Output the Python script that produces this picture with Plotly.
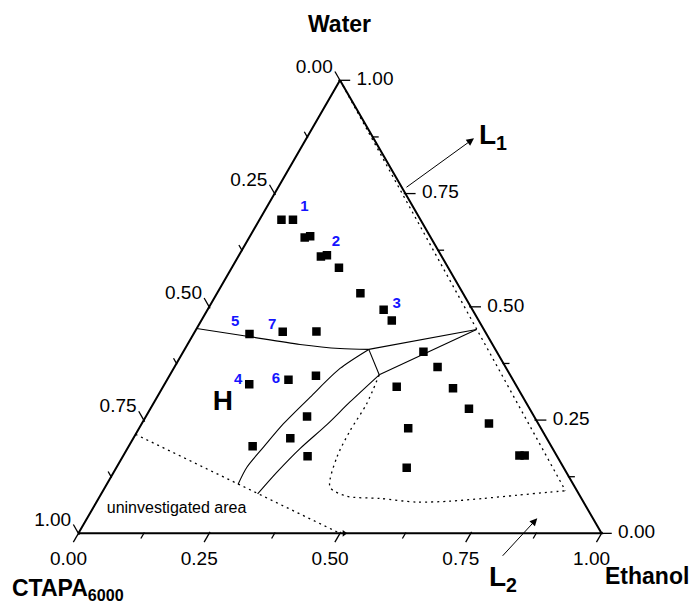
import math
import plotly.graph_objects as go

# ---------------------------------------------------------------
# Measured sample compositions (mass fractions)
# ---------------------------------------------------------------
water = [0.693, 0.693, 0.653, 0.656, 0.611, 0.614, 0.586, 0.530, 0.494, 0.470,
         0.440, 0.445, 0.445, 0.329, 0.339, 0.348, 0.258, 0.210, 0.192, 0.170,
         0.401, 0.367, 0.320, 0.275, 0.242, 0.324, 0.232, 0.145, 0.172, 0.172]
ctapa = [0.266, 0.244, 0.241, 0.229, 0.231, 0.218, 0.209, 0.196, 0.170, 0.166,
         0.453, 0.387, 0.322, 0.509, 0.429, 0.372, 0.434, 0.490, 0.571, 0.477,
         0.140, 0.130, 0.124, 0.116, 0.094, 0.230, 0.254, 0.300, 0.071, 0.061]
ethanol = [0.042, 0.064, 0.106, 0.115, 0.158, 0.168, 0.205, 0.274, 0.337, 0.364,
           0.107, 0.168, 0.232, 0.162, 0.232, 0.280, 0.308, 0.300, 0.237, 0.353,
           0.459, 0.503, 0.556, 0.609, 0.663, 0.447, 0.515, 0.555, 0.757, 0.767]

# ---------------------------------------------------------------
# Phase boundaries: (water, ctapa, ethanol) lists
# ---------------------------------------------------------------
h_l1_water = [0.452, 0.435, 0.417, 0.408, 0.406]
h_l1_ctapa = [0.548, 0.460, 0.368, 0.296, 0.242]
h_l1_ethanol = [0.000, 0.105, 0.215, 0.296, 0.352]

tie_upper_water = [0.406, 0.450]
tie_upper_ctapa = [0.242, 0.014]
tie_upper_ethanol = [0.352, 0.536]

tie_lower_water = [0.350, 0.450]
tie_lower_ctapa = [0.250, 0.014]
tie_lower_ethanol = [0.400, 0.536]

junction_water = [0.406, 0.350]
junction_ctapa = [0.242, 0.250]
junction_ethanol = [0.352, 0.400]

band_left_water = [0.406, 0.364, 0.301, 0.242, 0.191, 0.146, 0.108]
band_left_ctapa = [0.242, 0.318, 0.407, 0.487, 0.551, 0.605, 0.641]
band_left_ethanol = [0.352, 0.318, 0.293, 0.271, 0.259, 0.249, 0.251]

band_right_water = [0.350, 0.290, 0.240, 0.187, 0.135, 0.087]
band_right_ctapa = [0.250, 0.336, 0.405, 0.483, 0.553, 0.614]
band_right_ethanol = [0.400, 0.374, 0.355, 0.330, 0.312, 0.299]

uninv_water = [0.2185, 0.000]
uninv_ctapa = [0.7815, 0.500]
uninv_ethanol = [0.000, 0.500]

l1_water = [1.000, 0.094]
l1_ctapa = [0.000, 0.022]
l1_ethanol = [0.000, 0.884]

l2_water = [0.350, 0.286, 0.227, 0.168, 0.102, 0.082, 0.077, 0.069, 0.071,
            0.077, 0.084, 0.091, 0.094]
l2_ctapa = [0.250, 0.306, 0.367, 0.422, 0.468, 0.446, 0.385, 0.319, 0.254,
            0.188, 0.121, 0.054, 0.022]
l2_ethanol = [0.400, 0.408, 0.406, 0.410, 0.430, 0.472, 0.538, 0.612, 0.675,
              0.735, 0.795, 0.855, 0.884]

# ---------------------------------------------------------------
# Sample numbers and region labels
# ---------------------------------------------------------------
num_text = ["1", "2", "3", "4", "5", "6", "7"]
num_water = [0.7205, 0.6422, 0.5064, 0.3371, 0.4656, 0.3391, 0.4583]
num_ctapa = [0.2076, 0.1867, 0.1383, 0.5261, 0.4676, 0.4528, 0.4007]
num_ethanol = [0.0719, 0.1711, 0.3553, 0.1368, 0.0668, 0.2081, 0.1410]

# Axis scale
tick_vals = [0.0, 0.25, 0.5, 0.75, 1.0]
tick_text = ["0.00", "0.25", "0.50", "0.75", "1.00"]
minor_vals = [0.125, 0.375, 0.625, 0.875]

FONT = "Liberation Sans, Arial, sans-serif"
TRI_H = 453.0                      # height of the composition triangle, px
SIN60 = math.sin(math.radians(60))

# The ternary view is padded by PAD on each component so that the tick
# marks and tick labels just outside the composition triangle stay visible.
PAD = 0.05
SUM = 1 + 3 * PAD


def tern(a, b, c):
    return dict(a=[v + PAD for v in a], b=[v + PAD for v in b], c=[v + PAD for v in c])


def off(px):
    """Outward distance (px) expressed as a ternary fraction."""
    return SIN60 * px / TRI_H


# Scales read clockwise: CTAPA on the left edge, Ethanol on the bottom
# edge, Water on the right edge; ticks run along the iso-lines.
def left_edge(vals, k):
    return tern([1 - v + k for v in vals], list(vals), [-k] * len(vals))


def bottom_edge(vals, k):
    return tern([-k] * len(vals), [1 - v + k for v in vals], list(vals))


def right_edge(vals, k):
    return tern(list(vals), [-k] * len(vals), [1 - v + k for v in vals])


fig = go.Figure()


def line(a, b, c, dash="solid", width=1.1, shape="linear"):
    fig.add_trace(go.Scatterternary(
        **tern(a, b, c), mode="lines",
        line=dict(color="black", width=width, dash=dash, shape=shape, smoothing=0.8),
        hoverinfo="skip", showlegend=False))


# composition triangle
line([1, 0, 0, 1], [0, 1, 0, 0], [0, 0, 1, 0], width=2)

DOT = "2px,4px"
line(l1_water, l1_ctapa, l1_ethanol, dash=DOT, width=1.3)
line(uninv_water, uninv_ctapa, uninv_ethanol, dash=DOT, width=1.3)
line(l2_water, l2_ctapa, l2_ethanol, dash=DOT, width=1.3, shape="spline")
line(h_l1_water, h_l1_ctapa, h_l1_ethanol, shape="spline")
line(tie_upper_water, tie_upper_ctapa, tie_upper_ethanol)
line(tie_lower_water, tie_lower_ctapa, tie_lower_ethanol)
line(junction_water, junction_ctapa, junction_ethanol)
line(band_left_water, band_left_ctapa, band_left_ethanol, shape="spline")
line(band_right_water, band_right_ctapa, band_right_ethanol, shape="spline")

# end of the uninvestigated-area boundary
fig.add_trace(go.Scatterternary(
    **tern([uninv_water[-1]], [uninv_ctapa[-1] - 0.008], [uninv_ethanol[-1] + 0.008]),
    mode="markers", cliponaxis=False,
    marker=dict(symbol="triangle-right", size=6, color="black"),
    hoverinfo="skip", showlegend=False))

# samples
fig.add_trace(go.Scatterternary(
    **tern(water, ctapa, ethanol), mode="markers",
    marker=dict(symbol="square", size=8.5, color="black"),
    hoverinfo="skip", showlegend=False))

# sample numbers
fig.add_trace(go.Scatterternary(
    **tern(num_water, num_ctapa, num_ethanol), mode="text", text=num_text,
    textfont=dict(family=FONT, size=15, color="#1414ff", weight="bold"),
    hoverinfo="skip", showlegend=False))

# region labels
fig.add_trace(go.Scatterternary(
    **tern([0.2887], [0.5795], [0.1318]), mode="text", text=["H"],
    textfont=dict(family=FONT, size=28, color="black", weight="bold"),
    hoverinfo="skip", showlegend=False))
fig.add_trace(go.Scatterternary(
    **tern([0.0532], [0.7858], [0.161]), mode="text", text=["uninvestigated area"],
    textfont=dict(family=FONT, size=16, color="black"),
    hoverinfo="skip", showlegend=False))

# ticks
for edge, angle, sym in ((left_edge, -30, "line-ns"),
                         (bottom_edge, 30, "line-ns"),
                         (right_edge, 0, "line-ew")):
    for vals, length in ((tick_vals, 8.5), (minor_vals, 5)):
        fig.add_trace(go.Scatterternary(
            **edge(vals, off(length / 2)), mode="markers", cliponaxis=False,
            marker=dict(symbol=sym, size=length, angle=angle,
                        line=dict(color="black", width=1.3)),
            hoverinfo="skip", showlegend=False))

# tick labels
TICKFONT = dict(family=FONT, size=19, color="black")
for edge, k, pos in ((left_edge, off(14.5), "middle left"),
                     (bottom_edge, 0.038, "bottom center"),
                     (right_edge, off(16.5), "middle right")):
    fig.add_trace(go.Scatterternary(
        **edge(tick_vals, k), mode="text", text=tick_text, textposition=pos,
        textfont=TICKFONT, cliponaxis=False, hoverinfo="skip", showlegend=False))

hidden_axis = dict(title=dict(text=""), showgrid=False, showticklabels=False,
                   ticks="", showline=False, linewidth=0, min=0)

fig.update_layout(
    width=696, height=607,
    margin=dict(l=39, r=55, t=35, b=51),
    paper_bgcolor="white",
    font=dict(family=FONT, color="black"),
    ternary=dict(sum=SUM, bgcolor="rgba(0,0,0,0)",
                 aaxis=hidden_axis, baxis=hidden_axis, caxis=hidden_axis),
    showlegend=False,
)

BOLD = dict(family=FONT, size=23, color="black", weight="bold")
fig.add_annotation(x=0.4992, y=1.0211, xref="paper", yref="paper", text="Water",
                   showarrow=False, font=BOLD, xanchor="center", yanchor="middle")
fig.add_annotation(x=-0.0477, y=-0.0645, xref="paper", yref="paper",
                   text="CTAPA<sub>6000</sub>", showarrow=False, font=BOLD,
                   xanchor="left", yanchor="middle")
fig.add_annotation(x=0.9369, y=-0.038, xref="paper", yref="paper", text="Ethanol",
                   showarrow=False, font=BOLD, xanchor="left", yanchor="middle")

LFONT = dict(family=FONT, size=28, color="black", weight="bold")
fig.add_annotation(x=0.7276, y=0.8061, xref="paper", yref="paper",
                   text="L<sub>1</sub>", showarrow=False, font=LFONT,
                   xanchor="left", yanchor="middle")
fig.add_annotation(x=0.7442, y=-0.0441, xref="paper", yref="paper",
                   text="L<sub>2</sub>", showarrow=False, font=LFONT,
                   xanchor="left", yanchor="middle")

# pointers to the L1 and L2 regions
for hx, hy, tx, ty in ((0.7226, 0.8017, -69, 50), (0.8277, 0.0724, -36, 39)):
    fig.add_annotation(x=hx, y=hy, xref="paper", yref="paper", text="",
                       showarrow=True, ax=tx, ay=ty, arrowhead=2, arrowsize=1.5,
                       arrowwidth=1, arrowcolor="black", standoff=0)

fig.write_html("out.html")
